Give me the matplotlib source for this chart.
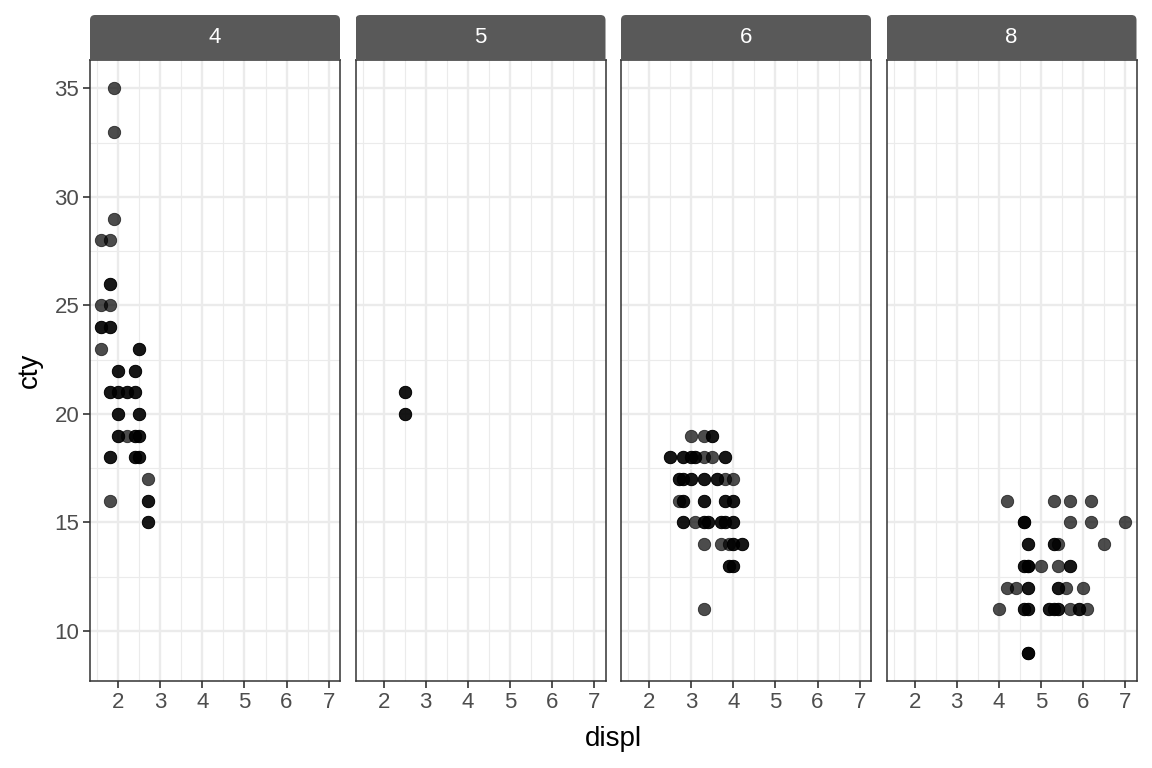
import numpy as np
import matplotlib
matplotlib.use('Agg')
import matplotlib.pyplot as plt
from matplotlib.patches import FancyBboxPatch

plt.rcParams['font.family'] = ['Liberation Sans', 'DejaVu Sans']

# facets (cyl) and points: displ, cty, number of overlapping cars
facets = ['4', '5', '6', '8']

cyl4_displ = [1.9, 1.9, 1.9, 1.6, 1.8, 1.8, 1.6, 1.8, 1.6, 1.8, 1.6, 2.5,
              2.0, 2.4, 1.8, 2.0, 2.2, 2.4, 2.0, 2.5, 2.0, 2.2, 2.4, 2.5,
              1.8, 2.4, 2.5, 2.7, 1.8, 2.7, 2.7]
cyl4_cty = [35, 33, 29, 28, 28, 26, 25, 25, 24, 24, 23, 23,
            22, 22, 21, 21, 21, 21, 20, 20, 19, 19, 19, 19,
            18, 18, 18, 17, 16, 16, 15]
cyl4_n = [1, 1, 1, 1, 1, 2, 1, 1, 2, 2, 1, 2,
          2, 2, 2, 2, 2, 2, 2, 2, 2, 1, 2, 2,
          2, 2, 2, 1, 1, 2, 2]

cyl5_displ = [2.5, 2.5]
cyl5_cty = [21, 20]
cyl5_n = [2, 2]

cyl6_displ = [3.0, 3.3, 3.5,
              2.5, 2.8, 3.0, 3.1, 3.3, 3.5, 3.8,
              2.7, 2.8, 3.0, 3.3, 3.6, 3.8, 4.0,
              2.7, 2.8, 3.3, 3.8, 4.0,
              2.8, 3.1, 3.3, 3.4, 3.7, 3.8, 4.0,
              3.3, 3.7, 3.9, 4.0, 4.2,
              3.9, 4.0,
              3.3]
cyl6_cty = [19, 19, 19,
            18, 18, 18, 18, 18, 18, 18,
            17, 17, 17, 17, 17, 17, 17,
            16, 16, 16, 16, 16,
            15, 15, 15, 15, 15, 15, 15,
            14, 14, 14, 14, 14,
            13, 13,
            11]
cyl6_n = [1, 1, 2,
          2, 2, 2, 2, 1, 1, 2,
          2, 2, 2, 2, 2, 1, 1,
          1, 2, 2, 2, 2,
          2, 1, 2, 2, 2, 2, 2,
          1, 1, 1, 2, 2,
          2, 2,
          1]

cyl8_displ = [4.2, 5.3, 5.7, 6.2,
              4.6, 5.7, 6.2, 7.0,
              4.7, 5.3, 5.4, 6.5,
              4.6, 4.7, 5.0, 5.4, 5.7,
              4.2, 4.4, 4.7, 5.4, 5.6, 6.0,
              4.0, 4.6, 4.7, 5.2, 5.3, 5.4, 5.7, 5.9, 6.1,
              4.7]
cyl8_cty = [16, 16, 16, 16,
            15, 15, 15, 15,
            14, 14, 14, 14,
            13, 13, 13, 13, 13,
            12, 12, 12, 12, 12, 12,
            11, 11, 11, 11, 11, 11, 11, 11, 11,
            9]
cyl8_n = [1, 1, 1, 1,
          3, 1, 1, 1,
          2, 2, 1, 1,
          2, 3, 1, 1, 2,
          1, 1, 2, 2, 1, 1,
          1, 2, 2, 2, 2, 2, 1, 2, 1,
          3]

panel_data = [(cyl4_displ, cyl4_cty, cyl4_n),
              (cyl5_displ, cyl5_cty, cyl5_n),
              (cyl6_displ, cyl6_cty, cyl6_n),
              (cyl8_displ, cyl8_cty, cyl8_n)]

x_ticks = [2, 3, 4, 5, 6, 7]
y_ticks = [10, 15, 20, 25, 30, 35]

W, H = 1152, 768
fig = plt.figure(figsize=(W / 100, H / 100), dpi=100)

# ggplot style range with 5% expansion over all data
all_x = cyl4_displ + cyl5_displ + cyl6_displ + cyl8_displ
all_y = cyl4_cty + cyl5_cty + cyl6_cty + cyl8_cty
xr = max(all_x) - min(all_x)
yr = max(all_y) - min(all_y)
xlim = (min(all_x) - 0.05 * xr, max(all_x) + 0.05 * xr)
ylim = (min(all_y) - 0.05 * yr, max(all_y) + 0.05 * yr)

lefts = [90, 355.5, 621, 886.5]
pw = 250
ptop, pbot = 60, 681
strip_top = 15

grid_col = '#ebebeb'
for i, left in enumerate(lefts):
    ax = fig.add_axes([left / W, (H - pbot) / H, pw / W, (pbot - ptop) / H])
    dx, dy, n = panel_data[i]
    xs = np.repeat(dx, n)
    ys = np.repeat(dy, n)
    ax.scatter(xs, ys, s=80, c='black', alpha=0.7, edgecolors='black',
               linewidths=0.6, zorder=3, clip_on=False)
    ax.set_xlim(xlim)
    ax.set_ylim(ylim)
    ax.set_xticks(x_ticks)
    ax.set_yticks(y_ticks)
    ax.set_xticks([1.5, 2.5, 3.5, 4.5, 5.5, 6.5], minor=True)
    ax.set_yticks([12.5, 17.5, 22.5, 27.5, 32.5], minor=True)
    ax.grid(which='major', color=grid_col, linewidth=1.7, zorder=0)
    ax.grid(which='minor', color=grid_col, linewidth=0.85, zorder=0)
    ax.set_axisbelow(True)
    ax.tick_params(which='minor', length=0)
    ax.tick_params(which='major', length=4.9, width=1.2, color='#333333',
                   labelcolor='#4d4d4d', labelsize=16, pad=2.8)
    for sp in ax.spines.values():
        sp.set_color('#333333')
        sp.set_linewidth(1.1)
    if i > 0:
        ax.tick_params(axis='y', left=False, labelleft=False)

    # facet strip
    sax = fig.add_axes([left / W, (H - ptop) / H, pw / W, (ptop - strip_top) / H])
    sax.set_xlim(0, pw)
    sax.set_ylim(0, ptop - strip_top)
    sax.axis('off')
    box = FancyBboxPatch((0, -10), pw, ptop - strip_top + 10,
                         boxstyle='round,pad=0,rounding_size=5',
                         facecolor='#595959', edgecolor='none')
    sax.add_patch(box)
    box.set_clip_on(True)
    box.set_clip_box(sax.bbox)
    sax.text(pw / 2, (ptop - strip_top) / 2, facets[i], color='white',
             fontsize=16, ha='center', va='center')

fig.text((lefts[0] + lefts[-1] + pw) / 2 / W, 1 - 739 / H, 'displ',
         fontsize=20, ha='center', va='center', color='black')
fig.text(30 / W, 1 - 370 / H, 'cty', fontsize=20, rotation=90,
         ha='center', va='center', color='black')

fig.savefig('out.png', dpi=100)
